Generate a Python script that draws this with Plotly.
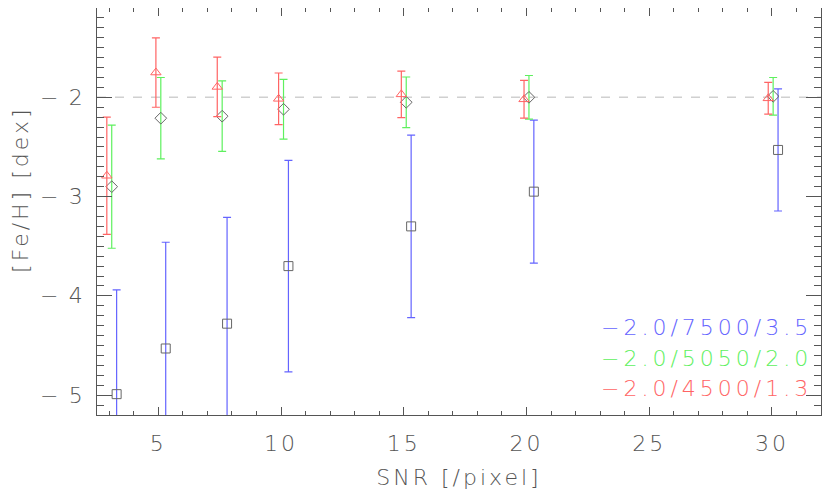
import plotly.graph_objects as go

# series: label, snr, [Fe/H], error
labels = ['\u22122.0/7500/3.5', '\u22122.0/5050/2.0', '\u22122.0/4500/1.3']
colors = ['#6464ff', '#5ef05e', '#ff6464']

snr_blue = [3.3, 5.3, 7.8, 10.3, 15.3, 20.3, 30.25]
feh_blue = [-4.99, -4.53, -4.28, -3.70, -3.30, -2.95, -2.53]
err_blue = [1.05, 1.07, 1.07, 1.065, 0.92, 0.72, 0.615]

snr_green = [3.1, 5.1, 7.6, 10.1, 15.1, 20.1, 30.05]
feh_green = [-2.90, -2.21, -2.19, -2.12, -2.05, -2.00, -1.99]
err_green = [0.62, 0.41, 0.355, 0.30, 0.255, 0.22, 0.19]

snr_red = [2.9, 4.9, 7.4, 9.9, 14.9, 19.9, 29.85]
feh_red = [-2.79, -1.75, -1.895, -2.015, -1.97, -2.02, -2.01]
err_red = [0.59, 0.35, 0.30, 0.26, 0.235, 0.19, 0.16]

ref_feh = -2.0
x_range = [2.5, 32]
y_range = [-5.2, -1.1]
x_ticks = [5, 10, 15, 20, 25, 30]
y_ticks = [-5, -4, -3, -2]

axis_col = '#555555'
font_fam = 'DejaVu Sans, sans-serif'


def spaced(s, sp=2):
    return '<span style="letter-spacing:%dpx">%s</span>' % (sp, s)


fig = go.Figure()

# reference line
fig.add_trace(go.Scatter(x=x_range, y=[ref_feh, ref_feh], mode='lines',
                         line=dict(color='#d0d0d0', width=1.5, dash='dash'),
                         showlegend=False, hoverinfo='skip'))

series = [
    (snr_blue, feh_blue, err_blue, 'square-open', colors[0]),
    (snr_green, feh_green, err_green, 'diamond-open', colors[1]),
    (snr_red, feh_red, err_red, 'triangle-up-open', colors[2]),
]
for i, (x, y, e, sym, col) in enumerate(series):
    mcol = col if sym.startswith('triangle') else '#666666'
    fig.add_trace(go.Scatter(
        x=x, y=y, mode='markers', name=labels[i],
        marker=dict(symbol=sym, size=9, color=mcol, line=dict(width=1, color=mcol)),
        error_y=dict(type='data', array=e, visible=True, color=col,
                     thickness=1.2, width=4),
        showlegend=False,
    ))

# legend as text, bottom right
for i, lab in enumerate(labels):
    fig.add_annotation(x=0.991, y=0.214 - i * 0.074, xref='paper', yref='paper',
                       xanchor='right', yanchor='middle', showarrow=False,
                       text=spaced(lab, 4),
                       font=dict(family=font_fam, size=22, color=colors[i], weight=200))

fig.add_annotation(x=-0.105, y=0.553, xref='paper', yref='paper', textangle=-90,
                   xanchor='center', yanchor='middle',
                   showarrow=False, text=spaced('[Fe/H] [dex]', 3),
                   font=dict(family=font_fam, size=22, color=axis_col, weight=200))

# y tick labels, placed close to the axis like the original
for v in y_ticks:
    fig.add_annotation(x=-0.012, y=v, xref='paper', yref='y',
                       xanchor='right', yanchor='middle', showarrow=False,
                       text=spaced('\u2212\u2009%d' % -v, 3),
                       font=dict(family=font_fam, size=22, color=axis_col, weight=200))

common = dict(showline=True, linecolor=axis_col, linewidth=1.2, mirror='ticks',
              ticks='inside', tickcolor=axis_col, showgrid=False, zeroline=False,
              tickfont=dict(family=font_fam, size=22, color=axis_col, weight=200))

fig.update_xaxes(range=x_range, tickvals=x_ticks,
                 ticktext=[spaced(str(v), 3) for v in x_ticks], ticklen=8,
                 ticklabelstandoff=8,
                 minor=dict(dtick=1, ticklen=4, ticks='inside', tickcolor=axis_col),
                 title=dict(text=spaced('SNR [/pixel]', 3), standoff=15,
                            font=dict(family=font_fam, size=22, color=axis_col, weight=200)),
                 **common)
fig.update_yaxes(range=y_range, tickvals=y_ticks, showticklabels=False, ticklen=15,
                 minor=dict(dtick=0.1, ticklen=7, ticks='inside', tickcolor=axis_col),
                 **common)

# page body has an 8px margin, so the figure is trimmed by that much
fig.update_layout(
    width=822, height=490,
    plot_bgcolor='white', paper_bgcolor='white',
    margin=dict(l=89, r=9, t=0, b=83),
    showlegend=False,
)

fig.write_html("out.html")
